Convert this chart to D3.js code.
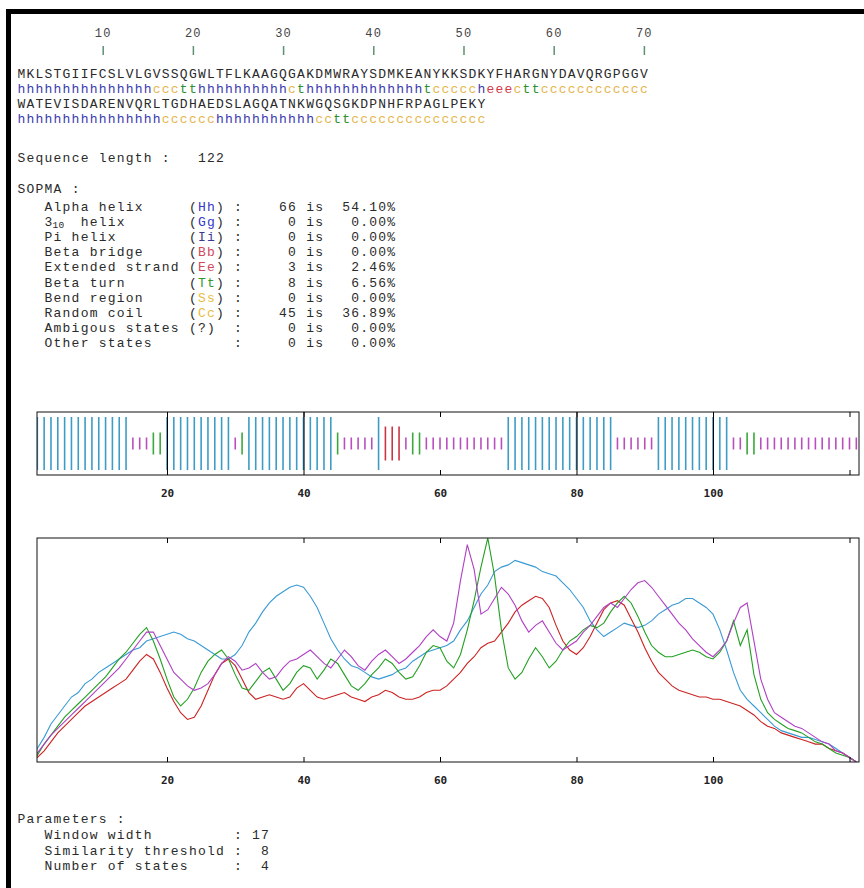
<!DOCTYPE html>
<html lang="en">
<head>
<meta charset="UTF-8">
<title>SOPMA secondary structure prediction</title>
<script src="https://d3js.org/d3.v7.min.js"></script>
<style>
  body { margin: 0; background: #fff; }
  svg text { font-family: "Liberation Mono", "DejaVu Sans Mono", monospace; fill: #2a2a2a; letter-spacing: 1.22px; }
  .axis text { font-family: "DejaVu Sans Mono", monospace; font-weight: bold; font-size: 11px; fill: #222; letter-spacing: 0; }
  .axis line { stroke: #000; }
</style>
</head>
<body>
<svg id="chart" width="864" height="888"></svg>
<script>
// ---- data ----
const sequence = "MKLSTGIIFCSLVLGVSSQGWLTFLKAAGQGAKDMWRAYSDMKEANYKKSDKYFHARGNYDAVQRGPGGV" +
                 "WATEVISDARENVQRLTGDHAEDSLAGQATNKWGQSGKDPNHFRPAGLPEKY";

// predicted state runs: [state, length]
const structureRuns = [
  ["h", 15], ["c", 3], ["t", 2], ["h", 10], ["c", 1], ["t", 1], ["h", 13], ["t", 1],
  ["c", 5], ["h", 1], ["e", 3], ["c", 1], ["t", 2], ["c", 12],
  ["h", 16], ["c", 6], ["h", 11], ["c", 2], ["t", 2], ["c", 15]
];

const rulerMarks = [10, 20, 30, 40, 50, 60, 70];
const residueTicks = [20, 40, 60, 80, 100, 120];
const labelledTicks = [20, 40, 60, 80, 100];

const stateLabels = ["Alpha helix", "3|10 helix", "Pi helix", "Beta bridge", "Extended strand",
                     "Beta turn", "Bend region", "Random coil", "Ambigous states", "Other states"];
const stateCodes = ["Hh", "Gg", "Ii", "Bb", "Ee", "Tt", "Ss", "Cc", "?", ""];
const stateCounts = [66, 0, 0, 0, 3, 8, 0, 45, 0, 0];
const statePercents = ["54.10%", "0.00%", "0.00%", "0.00%", "2.46%", "6.56%", "0.00%", "36.89%", "0.00%", "0.00%"];

const paramLabels = ["Window width", "Similarity threshold", "Number of states"];
const paramValues = [17, 8, 4];

// per-residue scores
const helixScore = [2,6,11,17,21,25,29,31,35,37,40,42,44,46,48,50,51,54,55,56,57,58,57,55,54,52,50,48,46,46,
  48,52,58,62,67,71,74,76,78,79,78,74,69,62,55,50,46,43,42,40,38,37,38,39,41,42,45,47,49,50,
  51,52,54,59,63,69,75,79,85,87,88,90,89,88,87,85,84,83,80,77,73,69,63,59,56,58,60,62,61,60,
  61,63,66,68,70,71,73,73,71,69,66,59,50,40,32,28,25,22,19,16,14,13,12,11,11,10,9,8,6,4,2,0];
const strandScore = [1,2,5,9,13,16,19,22,25,27,29,31,33,35,37,41,45,48,46,40,33,27,22,19,20,25,32,39,44,46,
  43,37,31,28,29,30,29,28,29,33,35,32,29,28,29,30,31,29,28,27,29,30,32,31,29,28,28,29,31,32,
  32,34,37,40,44,47,51,53,54,58,62,67,70,72,74,73,69,61,54,50,48,51,56,62,68,71,72,70,64,58,
  51,45,40,37,34,32,31,30,29,29,28,28,27,26,25,23,21,18,16,15,13,12,11,10,9,8,8,6,5,4,2,0];
const turnScore = [1,3,8,12,16,20,23,26,29,32,35,38,42,46,49,53,57,60,54,46,37,29,25,28,33,40,45,48,50,46,
  39,33,32,36,40,42,37,32,35,40,43,42,37,41,46,44,39,34,32,35,39,42,46,44,40,37,38,43,49,52,
  51,45,42,48,59,72,87,100,83,59,42,37,40,46,51,47,42,45,50,54,56,59,61,60,62,67,71,74,71,65,
  58,52,49,47,47,48,49,50,49,47,46,49,54,63,52,59,39,28,22,19,17,15,14,13,11,9,8,6,4,3,2,0];
const coilScore = [2,4,8,12,15,18,21,24,27,30,33,36,39,42,46,50,54,58,58,52,46,40,37,34,32,33,35,39,44,47,
  45,41,42,44,40,37,38,42,45,46,48,50,47,44,42,46,50,47,43,41,45,48,50,47,44,46,49,52,56,59,
  56,54,62,81,97,86,66,68,73,78,75,70,63,58,61,63,58,53,50,52,54,58,61,65,69,71,69,73,77,80,
  81,78,74,70,66,62,59,55,52,49,47,50,54,62,69,71,54,37,28,22,20,18,16,15,13,11,9,8,5,4,2,0];

// ---- layout / style ----
const svg = d3.select("#chart");
const fs = 13;                       // font size; letter-spacing keeps a 9.02px pitch
const charW = 9.02, textLeft = 17.5;
const col = c => textLeft + c * charW;
const txtColor = { h: "#3a3aae", c: "#e6b64e", t: "#2f8f2f", e: "#d23a4a" };
const barColor = { h: "#3d9cc6", c: "#b94fbf", t: "#3aa83a", e: "#cc3344" };
const barHalf = { h: 26.5, e: 17, t: 11, c: 6 };
const codeColor = { Hh: "#3636c8", Gg: "#3636c8", Ii: "#3a3a90", Bb: "#d0485a", Ee: "#d0485a",
                    Tt: "#2f9a2f", Ss: "#e8bc40", Cc: "#e8bc40" };

const structure = structureRuns.flatMap(([s, n]) => Array(n).fill(s));
const residues = sequence.split("").map((aa, i) => ({ aa, s: structure[i], i }));

// outer frame (left and top edges visible)
svg.append("rect").attr("x", 8.5).attr("y", 11.5).attr("width", 1000).attr("height", 1000)
  .attr("fill", "none").attr("stroke", "#000").attr("stroke-width", 5);

// ---- sequence block ----
const perLine = 70;
const seqBase = [78, 108], strBase = [92.5, 122.5];

svg.append("g").selectAll("text").data(rulerMarks).join("text")
  .attr("x", d => col(d - 1) + charW / 2).attr("y", 37)
  .attr("text-anchor", "middle").attr("font-size", 12).style("fill", "#444")
  .text(d => d);
svg.append("g").selectAll("line").data(rulerMarks).join("line")
  .attr("x1", d => col(d - 1) + charW / 2).attr("x2", d => col(d - 1) + charW / 2)
  .attr("y1", 46).attr("y2", 55).attr("stroke", "#5f8f6f").attr("stroke-width", 1.5);

svg.append("g").selectAll("text").data(residues).join("text")
  .attr("x", d => col(d.i % perLine)).attr("y", d => seqBase[Math.floor(d.i / perLine)])
  .attr("font-size", fs).text(d => d.aa);
svg.append("g").selectAll("text").data(residues).join("text")
  .attr("x", d => col(d.i % perLine)).attr("y", d => strBase[Math.floor(d.i / perLine)])
  .attr("font-size", fs).style("fill", d => txtColor[d.s]).text(d => d.s);

// ---- summary table ----
svg.append("text").attr("x", col(0)).attr("y", 161.5).attr("font-size", fs).text("Sequence length :");
svg.append("text").attr("x", col(20)).attr("y", 161.5).attr("font-size", fs).text(sequence.length);
svg.append("text").attr("x", col(0)).attr("y", 192.5).attr("font-size", fs).text("SOPMA :");

const rowY = i => 210.5 + i * 15.22;
const rows = svg.append("g").selectAll("g").data(stateLabels).join("g")
  .attr("transform", (d, i) => `translate(0,${rowY(i)})`).attr("font-size", fs);
rows.each(function (label, i) {
  const g = d3.select(this);
  if (label.includes("|")) {
    const [a, b] = label.split("|");
    g.append("text").attr("x", col(3)).text(a);
    g.append("text").attr("x", col(4) - 1).attr("y", 2.5).attr("font-size", 9.5)
      .style("letter-spacing", "0.3px").text(b.split(" ")[0]);
    g.append("text").attr("x", col(7)).text("helix");
  } else {
    g.append("text").attr("x", col(3)).text(label);
  }
  const code = stateCodes[i];
  if (code === "?") {
    g.append("text").attr("x", col(19)).text("(?)");
  } else if (code) {
    const c = g.append("text").attr("x", col(19));
    c.append("tspan").text("(");
    c.append("tspan").style("fill", codeColor[code]).text(code);
    c.append("tspan").text(")");
  }
  g.append("text").attr("x", col(24)).text(":");
  g.append("text").attr("x", col(29)).text(String(stateCounts[i]).padStart(2, "\u00a0"));
  g.append("text").attr("x", col(32)).text("is");
  g.append("text").attr("x", col(36)).text(statePercents[i].padStart(6, "\u00a0"));
});

// ---- shared residue scale (0-based residue index) ----
const x = d3.scaleLinear().domain([20, 100]).range([167, 713]);
const boxL = 37, boxR = 859;
const tickFmt = d => labelledTicks.includes(d) ? d : "";

// ---- band plot ----
const band = { top: 412, bottom: 475 };
const bandMid = (band.top + band.bottom) / 2;
svg.append("clipPath").attr("id", "bandClip").append("rect")
  .attr("x", boxL).attr("y", band.top).attr("width", boxR - boxL).attr("height", band.bottom - band.top);
svg.append("g").attr("clip-path", "url(#bandClip)")
  .selectAll("line").data(residues).join("line")
  .attr("x1", d => x(d.i)).attr("x2", d => x(d.i))
  .attr("y1", d => bandMid - barHalf[d.s]).attr("y2", d => bandMid + barHalf[d.s])
  .attr("stroke", d => barColor[d.s]).attr("stroke-width", 1.6);
svg.append("rect").attr("x", boxL).attr("y", band.top).attr("width", boxR - boxL)
  .attr("height", band.bottom - band.top).attr("fill", "none").attr("stroke", "#111");
// tick marks: they run through the whole box where a helix bar sits
const bandTickLen = d => structure[d] === "h" ? band.bottom - band.top : 5;
svg.append("g").attr("class", "axis").attr("transform", `translate(0,${band.bottom})`)
  .call(d3.axisBottom(x).tickValues(residueTicks).tickFormat(tickFmt)
    .tickSizeInner(-5).tickSizeOuter(0).tickPadding(14))
  .call(g => g.select(".domain").remove())
  .call(g => g.selectAll(".tick line").attr("y2", d => -bandTickLen(d)));
svg.append("g").attr("class", "axis").attr("transform", `translate(0,${band.top})`)
  .call(d3.axisTop(x).tickValues(residueTicks).tickSizeInner(-5).tickSizeOuter(0).tickFormat(""))
  .call(g => g.select(".domain").remove());

// ---- profile plot ----
const plot = { top: 538, bottom: 762 };
const y = d3.scaleLinear().domain([0, 100]).range([plot.bottom, plot.top]);
svg.append("clipPath").attr("id", "plotClip").append("rect")
  .attr("x", boxL).attr("y", plot.top).attr("width", boxR - boxL).attr("height", plot.bottom - plot.top);
const line = d3.line().x((d, i) => x(i)).y(d => y(d));
const series = [
  { values: helixScore, color: "#3a9ad4" },
  { values: strandScore, color: "#cc2222" },
  { values: turnScore, color: "#22a022" },
  { values: coilScore, color: "#b040c4" }
];
svg.append("g").attr("clip-path", "url(#plotClip)")
  .selectAll("path").data(series).join("path")
  .attr("d", d => line(d.values)).attr("fill", "none")
  .attr("stroke", d => d.color).attr("stroke-width", 1.1);
svg.append("rect").attr("x", boxL).attr("y", plot.top).attr("width", boxR - boxL)
  .attr("height", plot.bottom - plot.top).attr("fill", "none").attr("stroke", "#111");
svg.append("g").attr("class", "axis").attr("transform", `translate(0,${plot.bottom})`)
  .call(d3.axisBottom(x).tickValues(residueTicks).tickFormat(tickFmt)
    .tickSizeInner(-5).tickSizeOuter(0).tickPadding(14))
  .call(g => g.select(".domain").remove());
svg.append("g").attr("class", "axis").attr("transform", `translate(0,${plot.top})`)
  .call(d3.axisTop(x).tickValues(residueTicks).tickSizeInner(-5).tickSizeOuter(0).tickFormat(""))
  .call(g => g.select(".domain").remove());

// ---- parameters ----
svg.append("text").attr("x", col(0)).attr("y", 822.5).attr("font-size", fs).text("Parameters :");
const params = svg.append("g").selectAll("g").data(paramLabels).join("g")
  .attr("transform", (d, i) => `translate(0,${839 + i * 15.5})`).attr("font-size", fs);
params.append("text").attr("x", col(3)).text(d => d);
params.append("text").attr("x", col(24)).text(":");
params.append("text").attr("x", col(26)).text((d, i) => String(paramValues[i]).padStart(2, "\u00a0"));
</script>
</body>
</html>
